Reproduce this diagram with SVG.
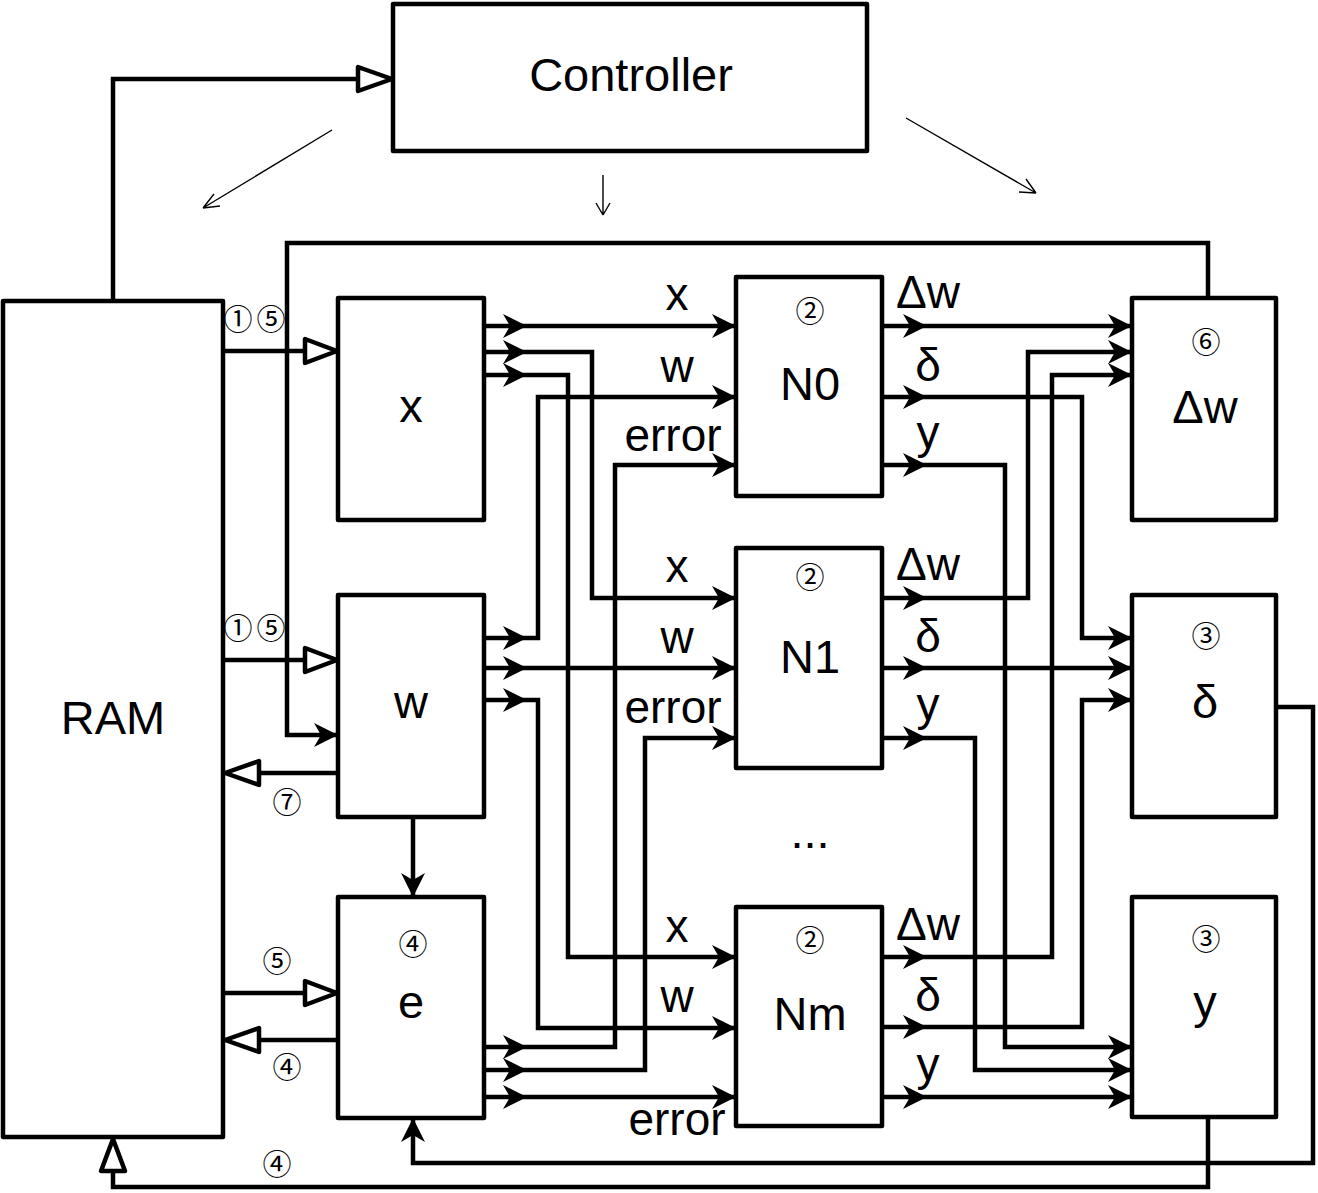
<svg xmlns="http://www.w3.org/2000/svg" xmlns:xlink="http://www.w3.org/1999/xlink" width="1318" height="1193" viewBox="0 0 1318 1193">
<style>
.box{fill:#fff;stroke:#000;stroke-width:4.5;stroke-linejoin:round}
.ln{fill:none;stroke:#000;stroke-width:4.5;stroke-linejoin:miter}
.thin{fill:none;stroke:#000;stroke-width:1.4}
.big{font-family:"Liberation Sans",Arial,sans-serif;font-size:47px;fill:#000;text-anchor:middle}
.lbl{font-family:"Liberation Sans",Arial,sans-serif;font-size:46px;fill:#000;text-anchor:middle}
.num{font-family:"Noto Sans CJK SC","DejaVu Sans",sans-serif;font-size:29px;fill:#000;text-anchor:middle}
.hol{fill:#fff;stroke:#000;stroke-width:4.5;stroke-linejoin:round}
</style>
<defs>
<path id="ah" d="M0,0 L-24,-12 L-17,0 L-24,12 Z" fill="#000"/>
</defs>
<g id="connectors">
<path class="ln" d="M484,326 H736"/>
<path class="ln" d="M484,352 H592 V598 H736"/>
<path class="ln" d="M484,375 H568 V957 H736"/>
<path class="ln" d="M484,638 H538 V397 H736"/>
<path class="ln" d="M484,668 H736"/>
<path class="ln" d="M484,700 H538 V1028 H736"/>
<path class="ln" d="M484,1047 H615 V465 H736"/>
<path class="ln" d="M484,1070 H645 V738 H736"/>
<path class="ln" d="M484,1097 H736"/>
<path class="ln" d="M882,326 H1132"/>
<path class="ln" d="M882,397 H1082 V638 H1132"/>
<path class="ln" d="M882,465 H1005 V1047 H1132"/>
<path class="ln" d="M882,598 H1028 V352 H1132"/>
<path class="ln" d="M882,668 H1132"/>
<path class="ln" d="M882,738 H975 V1070 H1132"/>
<path class="ln" d="M882,957 H1052 V375 H1132"/>
<path class="ln" d="M882,1027 H1082 V700 H1132"/>
<path class="ln" d="M882,1097 H1132"/>
<g>
<use xlink:href="#ah" transform="translate(527,326)"/><use xlink:href="#ah" transform="translate(736,326)"/>
<use xlink:href="#ah" transform="translate(527,352)"/><use xlink:href="#ah" transform="translate(736,598)"/>
<use xlink:href="#ah" transform="translate(527,375)"/><use xlink:href="#ah" transform="translate(736,957)"/>
<use xlink:href="#ah" transform="translate(527,638)"/><use xlink:href="#ah" transform="translate(736,397)"/>
<use xlink:href="#ah" transform="translate(527,668)"/><use xlink:href="#ah" transform="translate(736,668)"/>
<use xlink:href="#ah" transform="translate(527,700)"/><use xlink:href="#ah" transform="translate(736,1028)"/>
<use xlink:href="#ah" transform="translate(527,1047)"/><use xlink:href="#ah" transform="translate(736,465)"/>
<use xlink:href="#ah" transform="translate(527,1070)"/><use xlink:href="#ah" transform="translate(736,738)"/>
<use xlink:href="#ah" transform="translate(527,1097)"/><use xlink:href="#ah" transform="translate(736,1097)"/>
<use xlink:href="#ah" transform="translate(927,326)"/><use xlink:href="#ah" transform="translate(1132,326)"/>
<use xlink:href="#ah" transform="translate(927,397)"/><use xlink:href="#ah" transform="translate(1132,638)"/>
<use xlink:href="#ah" transform="translate(927,465)"/><use xlink:href="#ah" transform="translate(1132,1047)"/>
<use xlink:href="#ah" transform="translate(927,598)"/><use xlink:href="#ah" transform="translate(1132,352)"/>
<use xlink:href="#ah" transform="translate(927,668)"/><use xlink:href="#ah" transform="translate(1132,668)"/>
<use xlink:href="#ah" transform="translate(927,738)"/><use xlink:href="#ah" transform="translate(1132,1070)"/>
<use xlink:href="#ah" transform="translate(927,957)"/><use xlink:href="#ah" transform="translate(1132,375)"/>
<use xlink:href="#ah" transform="translate(927,1027)"/><use xlink:href="#ah" transform="translate(1132,700)"/>
<use xlink:href="#ah" transform="translate(927,1097)"/><use xlink:href="#ah" transform="translate(1132,1097)"/>
</g>
<path class="ln" d="M113,301 V79 H360"/>
<polygon class="hol" points="392,79 358,67 358,91"/>
<path class="ln" d="M223,351 H306"/>
<polygon class="hol" points="337,351 305,339 305,363"/>
<path class="ln" d="M223,660 H306"/>
<polygon class="hol" points="337,660 305,648 305,672"/>
<path class="ln" d="M223,993 H306"/>
<polygon class="hol" points="337,993 305,981 305,1005"/>
<path class="ln" d="M338,773 H255"/>
<polygon class="hol" points="225,773 259,761 259,785"/>
<path class="ln" d="M338,1040 H255"/>
<polygon class="hol" points="225,1040 259,1028 259,1052"/>
<path class="ln" d="M1208,298 V243 H287 V735 H338"/>
<use xlink:href="#ah" transform="translate(338,735)"/>
<path class="ln" d="M413,818 V897"/>
<use xlink:href="#ah" transform="translate(413,897) rotate(90)"/>
<path class="ln" d="M1276,707 H1313 V1163 H413 V1118"/>
<use xlink:href="#ah" transform="translate(413,1118) rotate(-90)"/>
<path class="ln" d="M1208,1117 V1187 H113 V1170"/>
<polygon class="hol" points="113,1139 101,1171 125,1171"/>
<path class="thin" d="M332,130 L203,208 M203,208 L214,194 M203,208 L220,206"/>
<path class="thin" d="M603,175 V215 M603,215 L596,203 M603,215 L610,203"/>
<path class="thin" d="M906,118 L1036,193 M1036,193 L1026,179 M1036,193 L1019,192"/>
</g>
<g id="controller"><rect class="box" x="393" y="4" width="474" height="147"/><text class="big" x="631" y="91">Controller</text></g>
<g id="ram"><rect class="box" x="3" y="301" width="220" height="836"/><text class="big" x="113" y="734">RAM</text></g>
<g id="xbox"><rect class="box" x="338" y="298" width="146" height="222"/><text class="big" x="411" y="422">x</text></g>
<g id="wbox"><rect class="box" x="338" y="595" width="146" height="222"/><text class="big" x="411" y="718">w</text></g>
<g id="ebox"><rect class="box" x="338" y="897" width="146" height="221"/><text class="num" x="413" y="955">④</text><text class="big" x="411" y="1018">e</text></g>
<g id="n0"><rect class="box" x="736" y="277" width="146" height="219"/><text class="num" x="810" y="322">②</text><text class="big" x="810" y="400">N0</text></g>
<g id="n1"><rect class="box" x="736" y="548" width="146" height="220"/><text class="num" x="810" y="588">②</text><text class="big" x="810" y="673">N1</text></g>
<g id="nm"><rect class="box" x="736" y="907" width="146" height="219"/><text class="num" x="810" y="951">②</text><text class="big" x="810" y="1030">Nm</text></g>
<g id="dwbox"><rect class="box" x="1132" y="298" width="144" height="222"/><text class="num" x="1206" y="353">⑥</text><text class="big" x="1205" y="423">Δw</text></g>
<g id="dbox"><rect class="box" x="1132" y="595" width="144" height="222"/><text class="num" x="1206" y="647">③</text><text class="big" x="1205" y="718">δ</text></g>
<g id="ybox"><rect class="box" x="1132" y="897" width="144" height="220"/><text class="num" x="1206" y="950">③</text><text class="big" x="1205" y="1018">y</text></g>
<g id="labels">
<text class="lbl" x="677" y="310">x</text><text class="lbl" x="677" y="382">w</text><text class="lbl" x="673" y="451">error</text>
<text class="lbl" x="677" y="582">x</text><text class="lbl" x="677" y="653">w</text><text class="lbl" x="673" y="723">error</text>
<text class="lbl" x="677" y="942">x</text><text class="lbl" x="677" y="1012">w</text><text class="lbl" x="677" y="1135">error</text>
<text class="lbl" x="928" y="308">Δw</text><text class="lbl" x="928" y="381">δ</text><text class="lbl" x="928" y="448">y</text>
<text class="lbl" x="928" y="580">Δw</text><text class="lbl" x="928" y="652">δ</text><text class="lbl" x="928" y="720">y</text>
<text class="lbl" x="928" y="940">Δw</text><text class="lbl" x="928" y="1011">δ</text><text class="lbl" x="928" y="1080">y</text>
<text class="big" x="810" y="848">...</text>
<text class="num" x="238" y="330">①</text><text class="num" x="271" y="330">⑤</text>
<text class="num" x="238" y="639">①</text><text class="num" x="271" y="639">⑤</text>
<text class="num" x="287" y="813">⑦</text>
<text class="num" x="277" y="972">⑤</text>
<text class="num" x="287" y="1078">④</text>
<text class="num" x="277" y="1175">④</text>
</g>
</svg>
